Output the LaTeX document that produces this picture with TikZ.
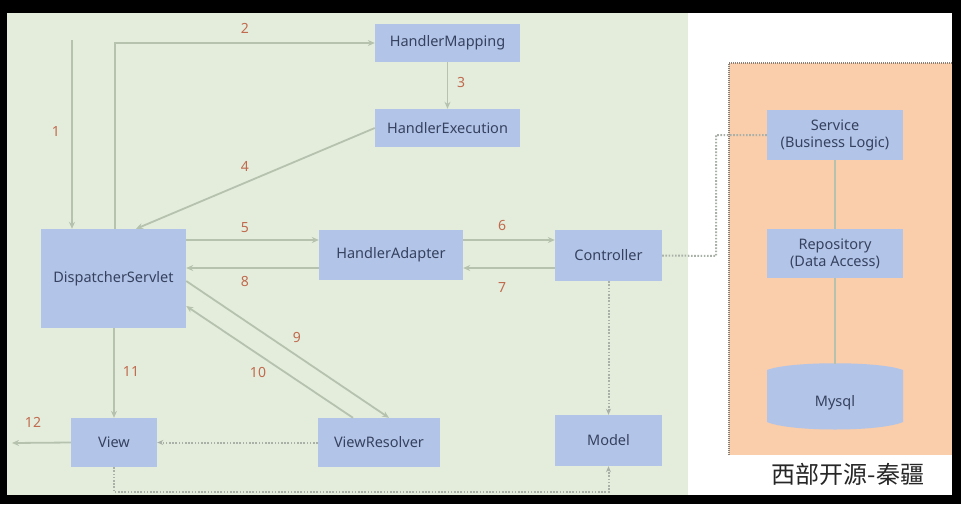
\documentclass[tikz,border=0pt]{standalone}
\usepackage{fontspec}
\setmainfont{Noto Sans}
\newfontfamily\cjkfont{Noto Sans CJK SC}
\usetikzlibrary{arrows.meta}
\definecolor{bggreen}{HTML}{E4EDDC}
\definecolor{boxblue}{HTML}{B2C5E8}
\definecolor{boxtext}{HTML}{36415F}
\definecolor{numred}{HTML}{C06A4E}
\definecolor{flowgray}{HTML}{B6C1AE}
\definecolor{dotgray}{HTML}{A9B0A8}
\definecolor{panelpeach}{HTML}{FACDAB}
\definecolor{paneledge}{HTML}{8A7F78}
\tikzset{
  box/.style={fill=boxblue, text=boxtext, font=\fontsize{14.5}{17}\selectfont, inner sep=0pt},
  num/.style={text=numred, font=\fontsize{14}{16}\selectfont},
  flow/.style={draw=flowgray, line width=1.8pt, -{Stealth[length=7pt,width=6pt]}},
  plainline/.style={draw=flowgray, line width=1.3pt},
  dots/.style={draw=dotgray, line width=2pt, dash pattern=on 1.6pt off 1.6pt, -{Stealth[length=6pt,width=5pt]}},
  dotsplain/.style={draw=dotgray, line width=2pt, dash pattern=on 1.6pt off 1.6pt},
}
\begin{document}
\begin{tikzpicture}[x=1pt,y=-1pt]
% frame and backgrounds
\fill[black] (0,0) rectangle (961,504);
\useasboundingbox (0,0) rectangle (961,504);
\fill[bggreen] (7,13) rectangle (688,495);
\fill[white] (688,13) rectangle (952,495);
\fill[panelpeach] (729,63) rectangle (952,455);
\draw[paneledge, line width=1.2pt, dash pattern=on 1pt off 1pt] (729,455) -- (729,63) -- (952,63);

% boxes
\node[box, minimum width=145pt, minimum height=38pt] (hm) at (447.5,43) {HandlerMapping};
\node[box, minimum width=145pt, minimum height=38pt] (he) at (447.5,128) {HandlerExecution};
\node[box, minimum width=145pt, minimum height=99pt] (ds) at (113.5,278.5) {\raisebox{-4pt}{DispatcherServlet}};
\node[box, minimum width=144pt, minimum height=50pt] (ha) at (391,255) {HandlerAdapter};
\node[box, minimum width=107pt, minimum height=51pt] (ctl) at (608.5,255.5) {Controller};
\node[box, minimum width=86pt, minimum height=49pt] (view) at (114,442.5) {View};
\node[box, minimum width=122pt, minimum height=49pt] (vr) at (379,442.5) {ViewResolver};
\node[box, minimum width=107pt, minimum height=51pt] (model) at (608.5,440.5) {Model};
\node[box, minimum width=136pt, minimum height=50pt, align=center] (svc) at (835,135) {Service\\(Business Logic)};
\node[box, minimum width=136pt, minimum height=49pt, align=center] (repo) at (835,253.5) {Repository\\(Data Access)};
% database drum
\fill[boxblue] (767,370) .. controls (790,361) and (880,361) .. (903,370)
  -- (903,422) .. controls (880,432) and (790,432) .. (767,422) -- cycle;
\node[box, fill=none, minimum width=136pt, minimum height=60pt] (db) at (835,403) {Mysql};

% entry points and bends
\coordinate (req) at (72,40);
\coordinate (resp) at (12,443);
\coordinate (bendA) at (716,256);
\coordinate (bendB) at (716,135);
\coordinate (lowL) at (114,492);
\coordinate (lowR) at (608.5,492);

% request flow
\draw[flow] (req) -- (ds.north -| req);
\draw[flow] (ds.north -| 115,0) |- (hm.west);
\draw[flow] (hm.south) -- (he.north);
\draw[flow] (he.west) -- (ds.north -| 136,0);
\draw[flow] (ds.east |- 0,240) -- (ha.west |- 0,240);
\draw[flow] (ha.west |- 0,268) -- (ds.east |- 0,268);
\draw[flow] (ha.east |- 0,240) -- (ctl.west |- 0,240);
\draw[flow] (ctl.west |- 0,268) -- (ha.east |- 0,268);
\draw[flow] (ds.east |- 0,281) -- (vr.north -| 389,0);
\draw[flow] (vr.north -| 353,0) -- (ds.east |- 0,306);
\draw[flow] (ds.south -| view.north) -- (view.north);
\draw[flow] (view.west) -- (resp);

% model and view data paths
\draw[dots] (vr.west) -- (view.east);
\draw[dots] (ctl.south) -- (model.north);
\draw[dots] (view.south) -- (lowL) -- (lowR) -- (model.south);
\draw[dotsplain] (ctl.east) -- (bendA) -- (bendB) -- (svc.west);

% service layers
\draw[plainline] (svc.south) -- (repo.north);
\draw[plainline] (repo.south) -- (835,364);

% step numbers
\node[num] (n1) at (56,131) {1};
\node[num] (n2) at (245,28) {2};
\node[num] (n3) at (461,82) {3};
\node[num] (n4) at (245,166) {4};
\node[num] (n5) at (245,228) {5};
\node[num] (n6) at (502,225) {6};
\node[num] (n7) at (502,287) {7};
\node[num] (n8) at (245,281) {8};
\node[num] (n9) at (297,337) {9};
\node[num] (n10) at (258,372) {10};
\node[num] (n11) at (131,371) {11};
\node[num] (n12) at (33,422) {12};

% caption
\node[text=black!85, font=\cjkfont\fontsize{24}{27}\selectfont] (cap) at (848,474) {西部开源-秦疆};
\end{tikzpicture}
\end{document}
